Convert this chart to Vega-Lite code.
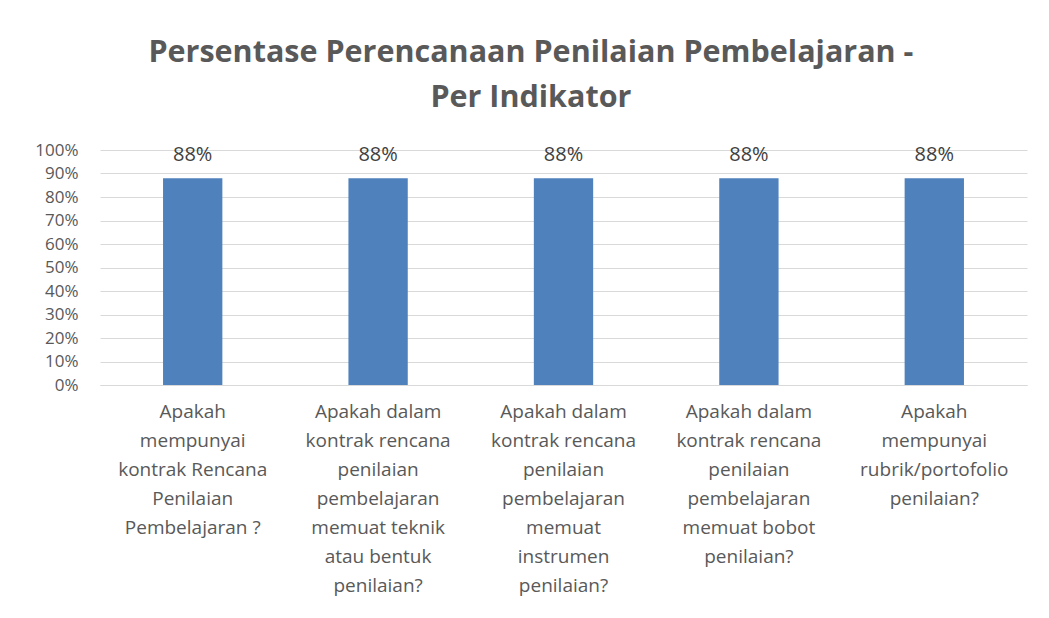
{
  "$schema": "https://vega.github.io/schema/vega-lite/v6.json",
  "autosize": "none",
  "width": 927,
  "height": 235,
  "padding": {"left": 100, "top": 150, "right": 22, "bottom": 233},
  "background": "white",
  "title": {
    "text": ["Persentase Perencanaan Penilaian Pembelajaran -", "Per Indikator"],
    "font": "Open Sans",
    "fontSize": 30.5,
    "fontWeight": "bold",
    "color": "#595959",
    "anchor": "middle",
    "frame": "bounds",
    "lineHeight": 45,
    "offset": 28
  },
  "data": {
    "values": [
      {"indikator": "Apakah\nmempunyai\nkontrak Rencana\nPenilaian\nPembelajaran ?", "persen": 0.88},
      {"indikator": "Apakah dalam\nkontrak rencana\npenilaian\npembelajaran\nmemuat teknik\natau bentuk\npenilaian?", "persen": 0.88},
      {"indikator": "Apakah dalam\nkontrak rencana\npenilaian\npembelajaran\nmemuat\ninstrumen\npenilaian?", "persen": 0.88},
      {"indikator": "Apakah dalam\nkontrak rencana\npenilaian\npembelajaran\nmemuat bobot\npenilaian?", "persen": 0.88},
      {"indikator": "Apakah\nmempunyai\nrubrik/portofolio\npenilaian?", "persen": 0.88}
    ]
  },
  "encoding": {
    "x": {
      "field": "indikator",
      "type": "nominal",
      "sort": null,
      "scale": {"paddingInner": 0.68, "paddingOuter": 0.34},
      "axis": {
        "title": null,
        "labelAngle": 0,
        "labelExpr": "split(datum.value, '\\n')",
        "labelFont": "Open Sans",
        "labelFontSize": 19,
        "labelColor": "#595959",
        "labelLineHeight": 29,
        "labelPadding": 17,
        "labelLimit": 400,
        "labelBaseline": "top",
        "labelOverlap": false,
        "ticks": false,
        "domainColor": "#D9D9D9",
        "grid": false
      }
    },
    "y": {
      "field": "persen",
      "type": "quantitative",
      "scale": {"domain": [0, 1], "nice": false},
      "axis": {
        "title": null,
        "format": ".0%",
        "values": [0, 0.1, 0.2, 0.3, 0.4, 0.5, 0.6, 0.7, 0.8, 0.9, 1],
        "labelFont": "Open Sans",
        "labelFontSize": 17,
        "labelColor": "#595959",
        "labelPadding": 22,
        "labelOverlap": false,
        "labelBound": false,
        "ticks": false,
        "domain": false,
        "gridColor": "#D9D9D9",
        "gridWidth": 1
      }
    }
  },
  "layer": [
    {"mark": {"type": "bar", "color": "#4F81BD"}},
    {
      "mark": {"type": "text", "dy": -23, "font": "Open Sans", "fontSize": 20, "color": "#404040"},
      "encoding": {"text": {"field": "persen", "type": "quantitative", "format": ".0%"}}
    }
  ],
  "config": {"view": {"stroke": null}}
}
